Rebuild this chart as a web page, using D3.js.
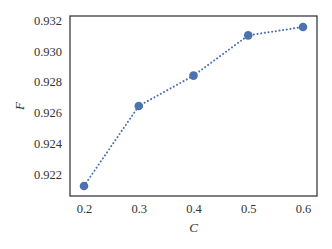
<!DOCTYPE html>
<meta charset="utf-8">
<style>
body { margin: 0; background: white; }
text { font-family: "Liberation Serif", "DejaVu Serif", serif; }
</style>
<svg id="chart" width="332" height="249"></svg>
<script src="https://d3js.org/d3.v7.min.js"></script>
<script>
var cValues = [0.2, 0.3, 0.4, 0.5, 0.6];
var fValues = [0.92129, 0.92645, 0.92841, 0.93101, 0.93155];
var xTicks = [0.2, 0.3, 0.4, 0.5, 0.6];
var yTicks = [0.922, 0.924, 0.926, 0.928, 0.930, 0.932];

var plotLeft = 70, plotRight = 317, plotTop = 16, plotBottom = 196;

var svg = d3.select("#chart");

var x = d3.scaleLinear().domain([0.1744, 0.6256]).range([plotLeft, plotRight]);
var y = d3.scaleLinear().domain([0.92064, 0.93226]).range([plotBottom, plotTop]);

// x tick labels
svg.append("g")
  .attr("transform", "translate(0," + plotBottom + ")")
  .call(d3.axisBottom(x).tickValues(xTicks).tickSize(0).tickPadding(8).tickFormat(d3.format(".1f")))
  .call(function(g) { g.select(".domain").remove(); })
  .selectAll("text").style("font-size", "12.5px").style("fill", "#333");

// y tick labels
svg.append("g")
  .attr("transform", "translate(" + plotLeft + ",0)")
  .call(d3.axisLeft(y).tickValues(yTicks).tickSize(0).tickPadding(8).tickFormat(d3.format(".3f")))
  .call(function(g) { g.select(".domain").remove(); })
  .selectAll("text").style("font-size", "12.5px").style("fill", "#333");

// frame
svg.append("rect")
  .attr("x", plotLeft).attr("y", plotTop)
  .attr("width", plotRight - plotLeft).attr("height", plotBottom - plotTop)
  .attr("fill", "none").attr("stroke", "#333").attr("stroke-width", 1.25);

var line = d3.line().x(function(d, i) { return x(cValues[i]); }).y(function(d) { return y(d); });

svg.append("path")
  .datum(fValues)
  .attr("d", line)
  .attr("fill", "none")
  .attr("stroke", "#4C72B0")
  .attr("stroke-width", 2)
  .attr("stroke-linecap", "round")
  .attr("stroke-dasharray", "0.1,3.6");

svg.selectAll("circle")
  .data(fValues)
  .enter().append("circle")
  .attr("cx", function(d, i) { return x(cValues[i]); })
  .attr("cy", function(d) { return y(d); })
  .attr("r", 4.3)
  .attr("fill", "#4C72B0");

// axis labels
svg.append("text")
  .attr("x", (plotLeft + plotRight) / 2).attr("y", 232)
  .attr("text-anchor", "middle")
  .style("font-size", "13px").style("font-style", "italic").style("fill", "#333")
  .text("C");

svg.append("text")
  .attr("transform", "translate(24,106) rotate(-90)")
  .attr("text-anchor", "middle")
  .style("font-size", "13px").style("font-style", "italic").style("fill", "#333")
  .text("F");
</script>
